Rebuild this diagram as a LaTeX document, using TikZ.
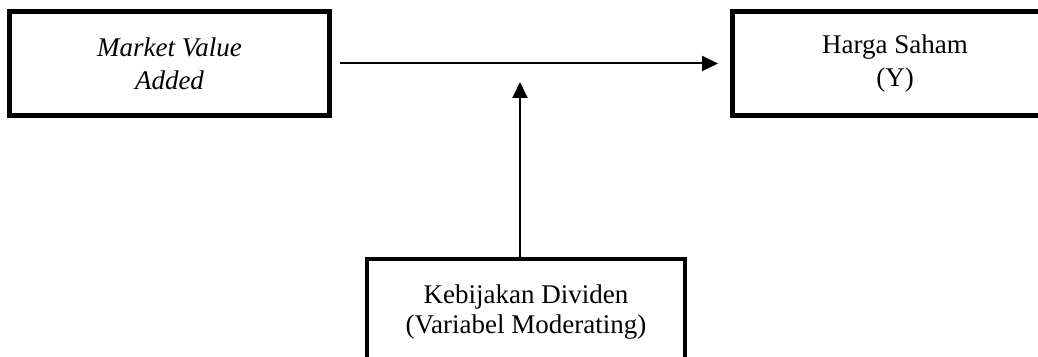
\documentclass[tikz,border=0pt]{standalone}
\usepackage{fontspec}
\setmainfont{Liberation Serif}
\usetikzlibrary{arrows.meta}
\begin{document}
\begin{tikzpicture}[x=1pt,y=1pt,
  varbox/.style={draw=black, line width=5pt, rectangle, inner sep=0pt, align=center,
    font=\fontsize{27}{33}\selectfont},
  arr/.style={line width=2pt, -{Triangle[length=16pt,width=15pt]}},
  lbl/.style={align=center, font=\fontsize{27}{30}\selectfont, inner sep=0pt}]
\clip (0,0) rectangle (1038,356);
\fill[white] (0,0) rectangle (1038,356);
\node[varbox, minimum width=320pt, minimum height=104pt] (mva) at (169.5,292.5)
  {\itshape Market Value\\\itshape Added};
\node[varbox, minimum width=325pt, minimum height=104pt] (hs) at (895,292.5)
  {Harga Saham\\(Y)};
\node[varbox, line width=4pt, minimum width=318pt, minimum height=130pt, anchor=north] (kd) at (526,99) {};
\node[lbl] (kdtext) at (526,44) {Kebijakan Dividen\\(Variabel Moderating)};
\coordinate (tip) at (520,274);
\draw[arr] ([xshift=8pt]mva.east) -- ([xshift=-12pt]hs.west);
\draw[arr] (kd.north -| tip) -- (tip);
\end{tikzpicture}
\end{document}
